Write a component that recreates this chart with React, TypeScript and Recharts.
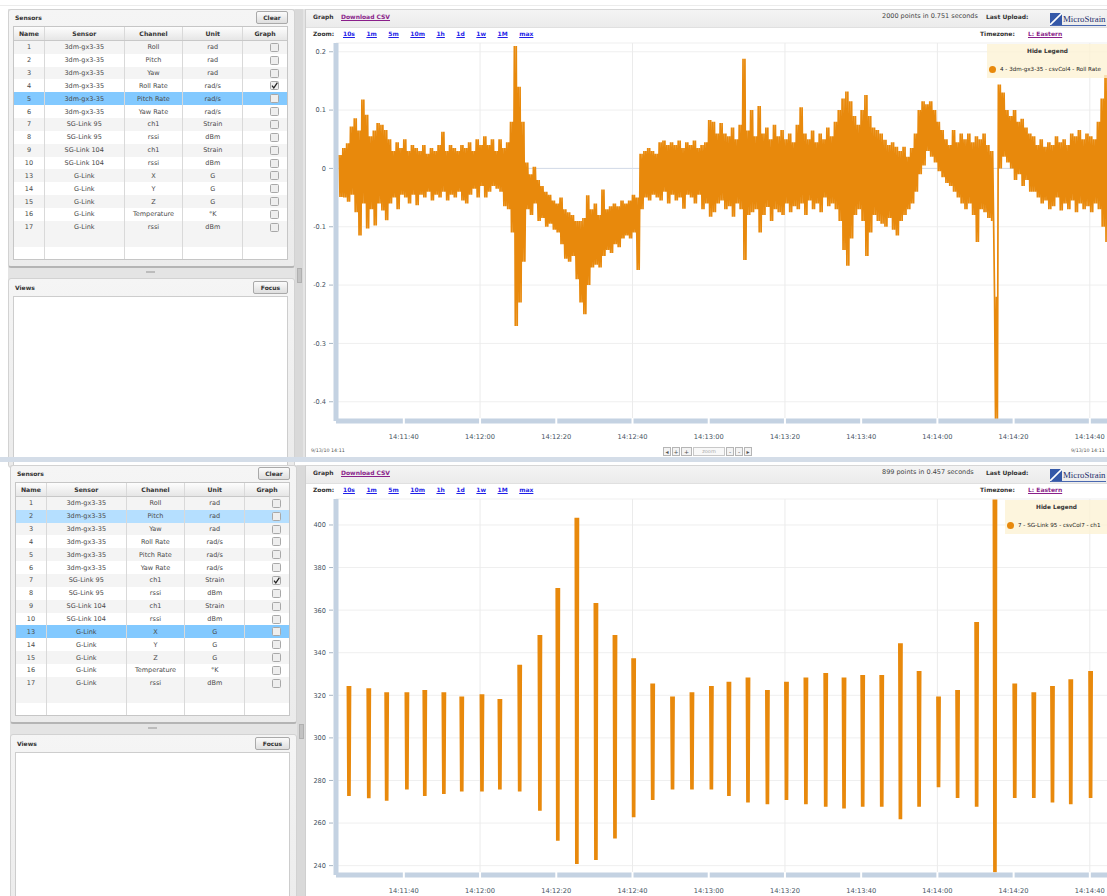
import React from 'react';
import { LineChart, Line, XAxis, YAxis, CartesianGrid, ReferenceLine } from 'recharts';

const FONT = '"DejaVu Sans", Verdana, sans-serif';
const ORANGE = '#e8890c';
const BAND = '#c4d2e2';
const INK = '#45535f';

// sensor table
const sensorIds = ['1', '2', '3', '4', '5', '6', '7', '8', '9', '10', '13', '14', '15', '16', '17'];
const sensorDevices = ['3dm-gx3-35', '3dm-gx3-35', '3dm-gx3-35', '3dm-gx3-35', '3dm-gx3-35', '3dm-gx3-35', 'SG-Link 95', 'SG-Link 95', 'SG-Link 104', 'SG-Link 104', 'G-Link', 'G-Link', 'G-Link', 'G-Link', 'G-Link'];
const sensorChannels = ['Roll', 'Pitch', 'Yaw', 'Roll Rate', 'Pitch Rate', 'Yaw Rate', 'ch1', 'rssi', 'ch1', 'rssi', 'X', 'Y', 'Z', 'Temperature', 'rssi'];
const sensorUnits = ['rad', 'rad', 'rad', 'rad/s', 'rad/s', 'rad/s', 'Strain', 'dBm', 'Strain', 'dBm', 'G', 'G', 'G', '°K', 'dBm'];
const tableHeaders = ['Name', 'Sensor', 'Channel', 'Unit', 'Graph'];

const zoomLinks = ['10s', '1m', '5m', '10m', '1h', '1d', '1w', '1M', 'max'];

// time axis, seconds after 14:11:40
const timeTicks = [0, 20, 40, 60, 80, 100, 120, 140, 160, 180];
const timeLabels = ['14:11:40', '14:12:00', '14:12:20', '14:12:40', '14:13:00', '14:13:20', '14:13:40', '14:14:00', '14:14:20', '14:14:40'];
const gridTimes = [20, 60, 100, 140, 180];
const timeDomain = [-17.8, 195];

// 4 - Roll Rate (rad/s): top / bottom edge of the trace, one pair per second from t = -17
const rollStart = -17;
const rollHi = [
  0.023, 0.035, 0.043, 0.072, 0.086, 0.065, 0.118, 0.092, 0.055, 0.065, 0.078, 0.075, 0.066,
  0.05, 0.03, 0.045, 0.035, 0.05, 0.03, 0.04, 0.035, 0.03, 0.04, 0.025, 0.035, 0.03, 0.04,
  0.063, 0.03, 0.04, 0.035, 0.03, 0.04, 0.035, 0.045, 0.03, 0.05, 0.04, 0.055, 0.04, 0.05,
  0.03, 0.05, 0.035, 0.045, 0.08, 0.21, 0.14, 0.08, 0.01, -0.01, 0.003, -0.02, -0.03, -0.04,
  -0.045, -0.055, -0.06, -0.05, -0.07, -0.075, -0.08, -0.09, -0.09, -0.085, -0.046, -0.07, -0.06, -0.08,
  -0.036, -0.07, -0.065, -0.06, -0.065, -0.055, -0.06, -0.055, -0.045, -0.05, 0.025, 0.03, 0.035, 0.03,
  0.025, 0.045, 0.048, 0.04, 0.045, 0.04, 0.048, 0.035, 0.045, 0.04, 0.048, 0.035, 0.04, 0.045,
  0.083, 0.08, 0.06, 0.078, 0.06, 0.055, 0.07, 0.05, 0.075, 0.188, 0.065, 0.1, 0.055, 0.107,
  0.06, 0.07, 0.05, 0.075, 0.055, 0.066, 0.05, 0.06, 0.045, 0.075, 0.105, 0.06, 0.05, 0.065,
  0.045, 0.06, 0.05, 0.07, 0.055, 0.08, 0.1, 0.12, 0.132, 0.115, 0.09, 0.075, 0.1, 0.126,
  0.09, 0.07, 0.066, 0.06, 0.049, 0.04, 0.045, 0.037, 0.03, 0.037, 0.02, 0.035, 0.06, 0.1,
  0.115, 0.11, 0.115, 0.1, 0.08, 0.066, 0.05, 0.04, 0.066, 0.045, 0.06, 0.05, 0.06, 0.045,
  0.055, 0.05, 0.06, 0.04, 0.03, -0.22, 0.144, 0.13, 0.1, 0.09, 0.1, 0.08, 0.085, 0.07,
  0.06, 0.055, 0.04, 0.05, 0.037, 0.045, 0.04, 0.055, 0.045, 0.05, 0.04, 0.06, 0.055, 0.066,
  0.05, 0.06, 0.055, 0.05, 0.08, 0.12, 0.16, 0.1,
];
const rollLo = [
  -0.049, -0.05, -0.057, -0.045, -0.075, -0.115, -0.06, -0.103, -0.07, -0.098, -0.06, -0.072, -0.089,
  -0.06, -0.05, -0.07, -0.045, -0.05, -0.06, -0.045, -0.063, -0.045, -0.05, -0.04, -0.055, -0.045, -0.05,
  -0.04, -0.055, -0.045, -0.05, -0.04, -0.055, -0.06, -0.045, -0.035, -0.05, -0.03, -0.05, -0.04, -0.03,
  -0.035, -0.04, -0.065, -0.07, -0.11, -0.27, -0.23, -0.16, -0.07, -0.08, -0.06, -0.09, -0.085, -0.1,
  -0.095, -0.105, -0.11, -0.13, -0.155, -0.16, -0.15, -0.19, -0.23, -0.25, -0.2, -0.17, -0.165, -0.17,
  -0.15, -0.14, -0.145, -0.13, -0.135, -0.12, -0.115, -0.12, -0.11, -0.174, -0.07, -0.05, -0.055, -0.045,
  -0.05, -0.055, -0.04, -0.06, -0.045, -0.055, -0.05, -0.069, -0.045, -0.05, -0.06, -0.045, -0.07, -0.06,
  -0.083, -0.075, -0.06, -0.055, -0.07, -0.065, -0.083, -0.06, -0.07, -0.157, -0.08, -0.075, -0.07, -0.11,
  -0.08, -0.066, -0.09, -0.07, -0.075, -0.08, -0.06, -0.075, -0.065, -0.07, -0.06, -0.08, -0.055, -0.07,
  -0.06, -0.075, -0.05, -0.065, -0.06, -0.07, -0.09, -0.14, -0.167, -0.12, -0.08, -0.07, -0.09, -0.15,
  -0.11, -0.08, -0.09, -0.095, -0.1, -0.085, -0.105, -0.115, -0.09, -0.08, -0.07, -0.06, -0.04, -0.01,
  0.005, 0.03, 0.02, 0.01, -0.005, -0.015, -0.025, -0.03, -0.04, -0.05, -0.06, -0.07, -0.06, -0.08,
  -0.126, -0.07, -0.075, -0.085, -0.09, -0.43, 0.0, 0.02, 0.01, 0.0, -0.02, -0.01, -0.03, -0.02,
  -0.04, -0.04, -0.05, -0.06, -0.055, -0.07, -0.065, -0.05, -0.072, -0.06, -0.07, -0.055, -0.075, -0.06,
  -0.07, -0.065, -0.075, -0.06, -0.07, -0.1, -0.126, -0.09,
];
const rollTicks = [-0.4, -0.3, -0.2, -0.1, 0, 0.1, 0.2];
const rollDomain = [-0.433, 0.215];

// 7 - SG-Link 95 ch1 (Strain): a short burst of samples about every 5 s
const burstTimes = [
  -14.4, -9.2, -4.5, 0.8, 5.5, 10.5, 15.2, 20.5, 25.2, 30.4,
  35.7, 40.4, 45.4, 50.4, 55.4, 60.3, 65.3, 70.5, 75.6, 80.7,
  85.3, 90.3, 95.4, 100.4, 105.5, 110.7, 115.5, 120.4, 125.4, 130.3,
  135.2, 140.3, 145.3, 150.3, 155.1, 160.3, 165.3, 170.2, 175, 180.2,
];
const strainHi = [
  324.4, 323.3, 321.4, 321.4, 322.5, 321.4, 319.4, 320.5, 318.3, 334.4,
  348.3, 370.4, 403.4, 363.4, 348.3, 337.4, 325.5, 319.4, 321.4, 324.4,
  326.4, 328.4, 322.5, 326.4, 328.4, 330.5, 328.4, 329.5, 329.5, 344.4,
  331.4, 319.4, 322.5, 354.4, 412, 325.5, 321.4, 324.4, 327.5, 331.4,
];
const strainLo = [
  272.7, 271.6, 270.5, 275.8, 272.7, 273.7, 274.8, 274.8, 275.8, 274.8,
  265.8, 251.7, 240.8, 242.7, 252.8, 262.7, 270.8, 275.8, 275.8, 275.8,
  272.7, 269.7, 268.8, 270.8, 268.8, 267.7, 266.8, 267.7, 267.7, 261.8,
  267.7, 276.8, 271.8, 267.7, 236.9, 271.8, 271.8, 269.7, 268.8, 271.8,
];
const strainTicks = [240, 260, 280, 300, 320, 340, 360, 380, 400];
const strainDomain = [235.6, 412.2];

// sample spacing (s) inside one second of roll rate and inside one strain burst
const rollOffsets = [0, 0.25, 0.5, 0.75];
const burstOffsets = [-0.45, -0.3, -0.15, 0, 0.15, 0.3, 0.45];

type Pt = { t: number; v: number | null };

const rollData: Pt[] = rollHi.flatMap((hi, i) =>
  rollOffsets.map((o, k) => ({ t: rollStart + i + o, v: k % 2 === 0 ? hi : rollLo[i] })),
);

const strainData: Pt[] = burstTimes.flatMap((t0, i) => [
  ...burstOffsets.map((o, k) => ({ t: t0 + o, v: k % 2 === 0 ? strainHi[i] : strainLo[i] })),
  { t: t0 + 2.5, v: null },
]);

function TimeTick(props: any) {
  const { x, y, payload } = props;
  const label = timeLabels[timeTicks.indexOf(payload.value)];
  return (
    <g>
      <line x1={x} y1={y - 3} x2={x} y2={y + 3} stroke="#ffffff" strokeWidth={2} />
      <text x={x} y={y + 18} textAnchor="middle" fontSize={6.7} fontFamily={FONT} fill={INK}>{label}</text>
    </g>
  );
}

function ValueTick(props: any) {
  const { x, y, payload } = props;
  return (
    <g>
      <line x1={x - 7} y1={y} x2={x - 3} y2={y} stroke="#a9b7c6" />
      <text x={x - 10} y={y + 2.4} textAnchor="end" fontSize={6.6} fontFamily={FONT} fill={INK}>{String(payload.value)}</text>
    </g>
  );
}

function SensorChart(p: { data: Pt[]; domain: number[]; ticks: number[]; height: number; axisHeight: number; marginBottom: number; zero?: boolean; stroke: number }) {
  return (
    <LineChart width={860} height={p.height} data={p.data} margin={{ top: 3, right: 13, bottom: p.marginBottom, left: 4 }}>
      <CartesianGrid vertical={false} stroke="#efefef" />
      {gridTimes.map((t) => (
        <ReferenceLine key={t} x={t} stroke="#ebebeb" />
      ))}
      {p.zero && <ReferenceLine y={0} stroke="#d3dbe8" />}
      <XAxis
        dataKey="t" type="number" domain={timeDomain} ticks={timeTicks} interval={0} allowDataOverflow
        height={p.axisHeight} tickSize={0} tickMargin={0} tickLine={false}
        axisLine={{ stroke: BAND, strokeWidth: 5 }} tick={(tp: any) => <TimeTick {...tp} />}
      />
      <YAxis
        type="number" domain={p.domain} ticks={p.ticks} interval={0} allowDataOverflow width={32}
        tickSize={0} tickMargin={0} tickLine={false}
        axisLine={{ stroke: BAND, strokeWidth: 5 }} tick={(tp: any) => <ValueTick {...tp} />}
      />
      <Line
        dataKey="v" stroke={ORANGE} strokeWidth={p.stroke} dot={false} activeDot={false}
        connectNulls={false} isAnimationActive={false}
      />
    </LineChart>
  );
}

const colWidths = [31, 80, 59, 60, 44];
const ROW_H = 12.86;

function Checkbox({ on }: { on: boolean }) {
  return (
    <svg width={9} height={9} style={{ display: 'block' }}>
      <rect x={0.5} y={0.5} width={8} height={8} rx={1} fill="#eeeeee" stroke="#a8a8a8" />
      {on && <path d="M2 4.6 L3.8 6.9 L7.4 1.6" stroke="#222" strokeWidth={1.2} fill="none" />}
    </svg>
  );
}

function TableRow({ cells, bg, check, bold }: { cells: string[]; bg: string; check?: boolean; bold?: boolean }) {
  return (
    <div style={{ display: 'flex', height: ROW_H, background: bg }}>
      {colWidths.map((w, k) => (
        <div
          key={k}
          style={{
            width: w, boxSizing: 'border-box', borderRight: k < 4 ? '1px solid #d9d9d9' : undefined,
            display: 'flex', alignItems: 'center',
            justifyContent: k === 4 && !bold ? 'flex-end' : 'center', paddingRight: k === 4 && !bold ? 8 : 0,
            fontWeight: bold ? 'bold' : 'normal', color: bold ? '#333' : '#4a4a4a', fontSize: bold ? 6.2 : 6.5,
          }}
        >
          {k === 4 && !bold ? check !== undefined && <Checkbox on={check} /> : cells[k]}
        </div>
      ))}
    </div>
  );
}

const btn: React.CSSProperties = {
  position: 'absolute', height: 13, boxSizing: 'border-box', border: '1px solid #a9a9a9', borderRadius: 2,
  background: 'linear-gradient(#fbfbfb, #dedede)', fontWeight: 'bold', fontSize: 6, color: '#333',
  display: 'flex', alignItems: 'center', justifyContent: 'center',
};

function LeftColumn({ dx, dy, highlights, checkedRow }: { dx: number; dy: number; highlights: Record<number, string>; checkedRow: number }) {
  const box: React.CSSProperties = {
    position: 'absolute', left: 8 + dx, width: 287, boxSizing: 'border-box',
    background: 'linear-gradient(#f5f5f5, #ebebeb)', border: '1px solid #d2d2d2', borderRadius: 3,
  };
  return (
    <>
      <div style={{ position: 'absolute', left: 8 + dx, top: 9 + dy, width: 297, height: 448, background: '#e4e4e4' }} />
      <div style={{ ...box, top: 9 + dy, height: 259, borderBottom: '2px solid #b4b4b4' }} />
      <div style={{ position: 'absolute', left: 15 + dx, top: 13 + dy, fontWeight: 'bold', fontSize: 6, color: '#333', lineHeight: '9px' }}>Sensors</div>
      <div style={{ ...btn, left: 256 + dx, top: 11 + dy, width: 32 }}>Clear</div>
      <div style={{ position: 'absolute', left: 13 + dx, top: 26 + dy, width: 275, height: 234, background: '#fff', border: '1px solid #c6c6c6', boxSizing: 'border-box', overflow: 'hidden' }}>
        <div style={{ background: 'linear-gradient(#fdfdfd, #e6e6e6)', borderBottom: '1px solid #c8c8c8' }}>
          <TableRow cells={tableHeaders} bg="transparent" bold />
        </div>
        {sensorIds.map((id, i) => (
          <TableRow
            key={id}
            cells={[id, sensorDevices[i], sensorChannels[i], sensorUnits[i], '']}
            bg={highlights[i] ?? (i % 2 === 0 ? '#f4f4f4' : '#ffffff')}
            check={i === checkedRow}
          />
        ))}
        <TableRow cells={['', '', '', '', '']} bg="#f4f4f4" />
        <TableRow cells={['', '', '', '', '']} bg="#ffffff" />
      </div>
      <div style={{ position: 'absolute', left: 146 + dx, top: 271 + dy, width: 9, height: 2, background: '#bcbcbc' }} />
      <div style={{ position: 'absolute', left: 295 + dx, top: 9 + dy, width: 8, height: 448, background: '#d9d9d9' }} />
      <div style={{ position: 'absolute', left: 297 + dx, top: 268 + dy, width: 5, height: 15, background: '#c2c2c2', border: '1px solid #b0b0b0', boxSizing: 'border-box' }} />
      <div style={{ ...box, top: 278 + dy, height: 190 }} />
      <div style={{ position: 'absolute', left: 15 + dx, top: 283 + dy, fontWeight: 'bold', fontSize: 6, color: '#333', lineHeight: '9px' }}>Views</div>
      <div style={{ ...btn, left: 253 + dx, top: 281 + dy, width: 35 }}>Focus</div>
      <div style={{ position: 'absolute', left: 13 + dx, top: 296 + dy, width: 275, height: 170, background: '#fff', border: '1px solid #cdcdcd', boxSizing: 'border-box' }} />
    </>
  );
}

const small: React.CSSProperties = { position: 'absolute', fontSize: 6, lineHeight: '9px', color: '#333', whiteSpace: 'nowrap' };
const link: React.CSSProperties = { fontWeight: 'bold', textDecoration: 'underline' };
const navBtn: React.CSSProperties = {
  height: 9, border: '1px solid #b5b5b5', boxSizing: 'border-box', background: '#f3f3f3',
  fontSize: 6, lineHeight: '7px', textAlign: 'center', color: '#555',
};

function Navigator() {
  return (
    <>
      <div style={{ ...small, left: 311, top: 446, fontSize: 4.8, color: '#555' }}>9/13/10 14:11</div>
      <div style={{ ...small, left: 1071, top: 446, fontSize: 4.8, color: '#555' }}>9/13/10 14:11</div>
      <div style={{ position: 'absolute', left: 663, top: 447, display: 'flex', gap: 1 }}>
        <div style={{ ...navBtn, width: 8 }}>◂</div>
        <div style={{ ...navBtn, width: 8 }}>+</div>
        <div style={{ ...navBtn, width: 11 }}>+</div>
        <div style={{ ...navBtn, width: 32, borderColor: '#c8c8c8', background: '#f8f8f8', fontSize: 5, color: '#aaa' }}>zoom</div>
        <div style={{ ...navBtn, width: 8 }}>-</div>
        <div style={{ ...navBtn, width: 8 }}>-</div>
        <div style={{ ...navBtn, width: 8 }}>▸</div>
      </div>
    </>
  );
}

function GraphPanel({ dy, points, legend, legendLeft, chart }: { dy: number; points: string; legend: string; legendLeft: number; chart: React.ReactNode }) {
  return (
    <>
      <div style={{ position: 'absolute', left: 305, top: 9 + dy, width: 810, height: 448, background: '#fff', borderLeft: '1px solid #cfcfcf', borderTop: '1px solid #d6d6d6' }} />
      <div style={{ position: 'absolute', left: 306, top: 10 + dy, width: 810, height: 17, background: 'linear-gradient(#f4f4f4, #ebebeb)', borderBottom: '1px solid #e0e0e0' }} />
      <div style={{ ...small, left: 313, top: 12 + dy, fontWeight: 'bold' }}>Graph</div>
      <div style={{ ...small, ...link, left: 341, top: 12 + dy, color: '#8a1f8a' }}>Download CSV</div>
      <div style={{ ...small, left: 882, top: 12 + dy, fontSize: 6.5, color: '#444' }}>{points}</div>
      <div style={{ ...small, left: 986, top: 12 + dy, fontWeight: 'bold' }}>Last Upload:</div>
      <div style={{ position: 'absolute', left: 1050, top: 12 + dy, display: 'flex', alignItems: 'center', height: 13, borderBottom: '1px solid #4a68b0' }}>
        <svg width={12} height={12} style={{ display: 'block' }}>
          <rect x={0} y={0} width={12} height={12} fill="#3458a8" />
          <path d="M0 12 L12 0" stroke="#ffffff" strokeWidth={1.6} />
        </svg>
        <span style={{ fontFamily: '"Liberation Serif", serif', fontSize: 8.8, color: '#1d2e6c', marginLeft: 1 }}>MicroStrain</span>
      </div>
      <div style={{ ...small, left: 313, top: 29 + dy, fontWeight: 'bold' }}>Zoom:</div>
      <div style={{ ...small, left: 343, top: 29 + dy, display: 'flex', gap: 11.5 }}>
        {zoomLinks.map((z) => (
          <span key={z} style={{ ...link, color: '#1f1fe8' }}>{z}</span>
        ))}
      </div>
      <div style={{ ...small, left: 980, top: 29 + dy, fontWeight: 'bold' }}>Timezone:</div>
      <div style={{ ...small, ...link, left: 1028, top: 29 + dy, color: '#8a1f8a' }}>L: Eastern</div>
      <div style={{ position: 'absolute', left: 300, top: 40 + dy }}>{chart}</div>
      <div style={{ position: 'absolute', left: legendLeft, top: 44 + dy, width: 1108 - legendLeft, height: 34, background: 'rgba(252, 242, 212, 0.78)' }}>
        <div style={{ position: 'absolute', left: 0, right: 0, top: 3, textAlign: 'center', fontWeight: 'bold', fontSize: 5.8, color: '#333', lineHeight: '9px' }}>Hide Legend</div>
        <div style={{ position: 'absolute', left: 2, top: 22, width: 7, height: 7, borderRadius: '50%', background: ORANGE }} />
        <div style={{ position: 'absolute', left: 13, top: 21, fontSize: 5.6, color: '#1a1a1a', lineHeight: '9px', whiteSpace: 'nowrap' }}>{legend}</div>
      </div>
    </>
  );
}

export default function App() {
  return (
    <div style={{ position: 'absolute', left: 0, top: 0, width: 1107, height: 896, overflow: 'hidden', background: '#fff', fontFamily: FONT }}>
      <div style={{ position: 'absolute', left: 0, top: 5, width: 1107, height: 1, background: '#ececec' }} />
      <LeftColumn dx={0} dy={0} highlights={{ 4: '#82c9ff' }} checkedRow={3} />
      <GraphPanel
        dy={0}
        points="2000 points in 0.751 seconds"
        legend="4 - 3dm-gx3-35 - csvCol4 - Roll Rate"
        legendLeft={987}
        chart={<SensorChart data={rollData} domain={rollDomain} ticks={rollTicks} height={420} axisHeight={30} marginBottom={9} zero stroke={1.7} />}
      />
      <Navigator />
      <div style={{ position: 'absolute', left: 0, top: 457, width: 1107, height: 5, background: '#d4dde8' }} />
      <LeftColumn dx={2} dy={456} highlights={{ 1: '#b5dfff', 10: '#82c9ff' }} checkedRow={6} />
      <GraphPanel
        dy={456}
        points="899 points in 0.457 seconds"
        legend="7 - SG-Link 95 - csvCol7 - ch1"
        legendLeft={1005}
        chart={<SensorChart data={strainData} domain={strainDomain} ticks={strainTicks} height={400} axisHeight={21} marginBottom={0} stroke={1.4} />}
      />
    </div>
  );
}
